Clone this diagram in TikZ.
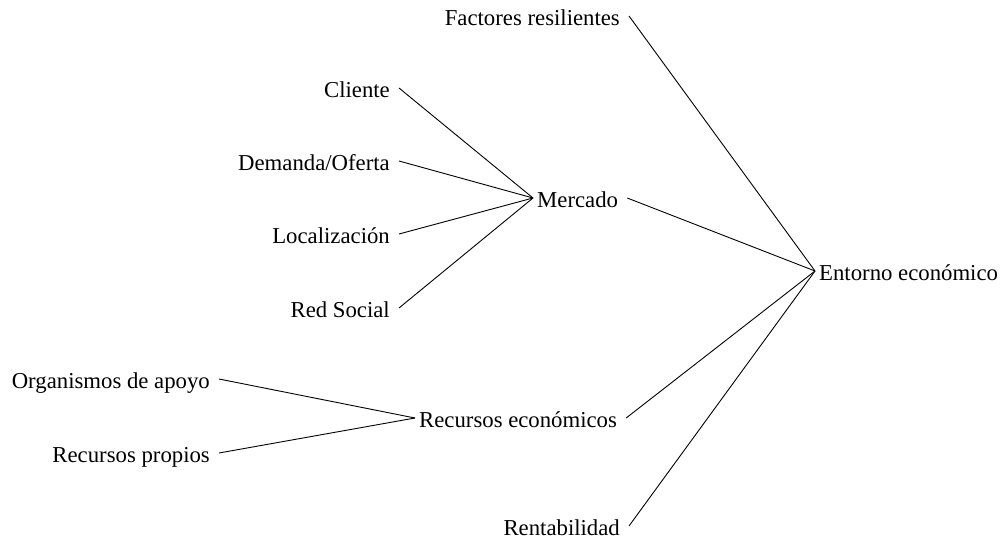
\documentclass[tikz,border=0pt]{standalone}
\usepackage{fontspec}
\setmainfont{Liberation Serif}
\begin{document}
\begin{tikzpicture}[x=1pt,y=-1pt,
  lbl/.style={inner sep=0pt,text height=18pt,text depth=0pt,font=\fontsize{22.75}{26}\selectfont},
  link/.style={draw=black,line width=0.9pt}]
\useasboundingbox[fill=white] (0,0) rectangle (1002,541);
\node[lbl,anchor=base east] (fac) at (620,25) {Factores resilientes};
\node[lbl,anchor=base east] (cli) at (390,97) {Cliente};
\node[lbl,anchor=base east] (dem) at (390,170) {Demanda/Oferta};
\node[lbl,anchor=base east] (loc) at (390,243) {Localización};
\node[lbl,anchor=base east] (red) at (390,317) {Red Social};
\node[lbl,anchor=base west] (mer) at (537,207) {Mercado};
\node[lbl,anchor=base west] (ent) at (819,280) {Entorno económico};
\node[lbl,anchor=base east] (org) at (210,388) {Organismos de apoyo};
\node[lbl,anchor=base east] (rpr) at (210,462) {Recursos propios};
\node[lbl,anchor=base west] (rec) at (419,427) {Recursos económicos};
\node[lbl,anchor=base east] (ren) at (620,535) {Rentabilidad};
\foreach \a/\b in {cli/mer,dem/mer,loc/mer,red/mer,org/rec,rpr/rec,fac/ent,mer/ent,rec/ent,ren/ent}
  \draw[link] ([xshift=9pt]\a.east) -- ([xshift=-4pt]\b.west);
\end{tikzpicture}
\end{document}
